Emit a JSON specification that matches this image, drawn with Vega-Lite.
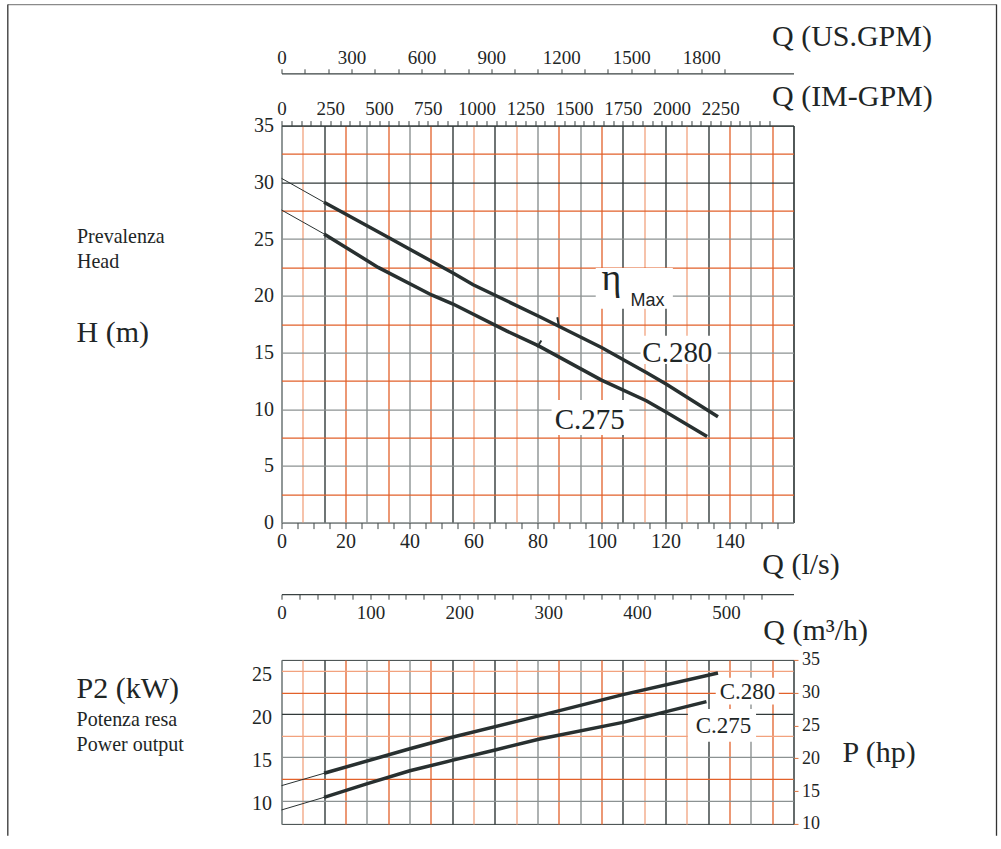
{
  "$schema": "https://vega.github.io/schema/vega-lite/v6.json",
  "background": "white",
  "padding": {"left": 6.5, "top": 2.6, "right": 0, "bottom": 0},
  "bounds": "flush",
  "spacing": 137.3,
  "config": {
    "view": {"stroke": "#3a4242", "strokeWidth": 1},
    "axis": {
      "grid": false,
      "labelFont": "Liberation Serif",
      "titleFont": "Liberation Serif",
      "titleFontWeight": "normal",
      "labelColor": "#1e2626",
      "titleColor": "#1e2626",
      "labelOverlap": false,
      "labelFlush": false,
      "domainColor": "#3a4242",
      "tickColor": "#3a4242",
      "titleAngle": 0,
      "titleAlign": "left",
      "titleBaseline": "alphabetic"
    }
  },
  "datasets": {
    "head": [
      {"pump": "C.280", "q": 0, "h": 30.35},
      {"pump": "C.280", "q": 13.3, "h": 28.24},
      {"pump": "C.280", "q": 33.3, "h": 25.15},
      {"pump": "C.280", "q": 53.6, "h": 22.0},
      {"pump": "C.280", "q": 59.9, "h": 20.97},
      {"pump": "C.280", "q": 80.7, "h": 18.15},
      {"pump": "C.280", "q": 100, "h": 15.44},
      {"pump": "C.280", "q": 114, "h": 13.24},
      {"pump": "C.280", "q": 120.3, "h": 12.2},
      {"pump": "C.280", "q": 136.4, "h": 9.33},
      {"pump": "C.275", "q": 0, "h": 27.56},
      {"pump": "C.275", "q": 13.3, "h": 25.45},
      {"pump": "C.275", "q": 30.2, "h": 22.5},
      {"pump": "C.275", "q": 46.9, "h": 20.07},
      {"pump": "C.275", "q": 53.6, "h": 19.27},
      {"pump": "C.275", "q": 70.3, "h": 16.9},
      {"pump": "C.275", "q": 80.2, "h": 15.6},
      {"pump": "C.275", "q": 100, "h": 12.56},
      {"pump": "C.275", "q": 114, "h": 10.74},
      {"pump": "C.275", "q": 120, "h": 9.77},
      {"pump": "C.275", "q": 133, "h": 7.6}
    ],
    "power": [
      {"pump": "C.280", "q": 0, "p": 11.73},
      {"pump": "C.280", "q": 13.3, "p": 13.16},
      {"pump": "C.280", "q": 40.1, "p": 16.0},
      {"pump": "C.280", "q": 53.6, "p": 17.35},
      {"pump": "C.280", "q": 80.7, "p": 19.83},
      {"pump": "C.280", "q": 106.7, "p": 22.25},
      {"pump": "C.280", "q": 136.4, "p": 24.76},
      {"pump": "C.275", "q": 0, "p": 8.92},
      {"pump": "C.275", "q": 13.3, "p": 10.38},
      {"pump": "C.275", "q": 26.6, "p": 11.93},
      {"pump": "C.275", "q": 40.1, "p": 13.45},
      {"pump": "C.275", "q": 53.6, "p": 14.68},
      {"pump": "C.275", "q": 66.75, "p": 15.86},
      {"pump": "C.275", "q": 80.7, "p": 17.13},
      {"pump": "C.275", "q": 106.7, "p": 19.05},
      {"pump": "C.275", "q": 132.8, "p": 21.45}
    ],
    "eta": [
      {"pump": "C.280", "q": 86.7, "h": 17.3},
      {"pump": "C.280", "q": 86.2, "h": 18.1},
      {"pump": "C.275", "q": 79.9, "h": 15.45},
      {"pump": "C.275", "q": 81.2, "h": 16.05}
    ],
    "labels": [
      {"panel": "H", "text": "C.280", "q": 123.7, "v": 14.18},
      {"panel": "H", "text": "C.275", "q": 96.3, "v": 8.27},
      {"panel": "H", "text": "η", "q": 103.1, "v": 20.53},
      {"panel": "H", "text": "Max", "q": 109.1, "v": 19.12},
      {"panel": "P", "text": "C.280", "q": 145.6, "v": 21.73},
      {"panel": "P", "text": "C.275", "q": 138.1, "v": 17.83}
    ],
    "boxes": [
      {"panel": "H", "box": "C.280", "q1": 112.2, "q2": 136.3, "v1": 16.47, "v2": 13.99},
      {"panel": "H", "box": "C.275", "q1": 84.4, "q2": 108.7, "v1": 10.81, "v2": 7.72},
      {"panel": "H", "box": "eta", "q1": 98.2, "q2": 122.3, "v1": 22.45, "v2": 18.85},
      {"panel": "P", "box": "C.280", "q1": 135.7, "q2": 155.4, "v1": 24.22, "v2": 21.1},
      {"panel": "P", "box": "C.275", "q1": 127, "q2": 148.3, "v1": 20.6, "v2": 16.8}
    ],
    "frame": [
      {"part": "border"}
    ]
  },
  "vconcat": [
    {
      "width": 512,
      "height": 397,
      "resolve": {"scale": {"x": "independent", "y": "independent"}, "axis": {"x": "independent", "y": "independent"}},
      "layer": [
        {
          "data": {"name": "labels"},
          "mark": {"type": "point", "opacity": 0},
          "encoding": {
            "x": {"datum": 0, "type": "quantitative", "scale": {"domain": [0, 24], "nice": false, "zero": false},
              "axis": {"orient": "bottom", "values": [0,2,4,6,8,10,12,14,16,18,20,22,24], "grid": true,
                "gridColor": {"condition": {"test": "indexof([0,4,6,12,14,22], datum.value) >= 0", "value": "#8c9292"}, "value": "#323a3a"},
                "gridWidth": 1.4, "labels": false, "ticks": false, "domain": false, "title": null}},
            "y": {"datum": 0, "type": "quantitative", "scale": {"domain": [0, 35], "nice": false, "zero": false},
              "axis": {"orient": "left", "values": [0,5,10,15,20,25,30,35], "grid": true,
                "gridColor": {"condition": {"test": "datum.value >= 30", "value": "#323a3a"}, "value": "#8c9292"},
                "gridWidth": 1.4, "ticks": false, "domain": false, "labelFontSize": 20, "labelPadding": 8,
                "title": "H (m)", "titleFontSize": 30, "titleX": -205.5, "titleY": 216.4}}
          }
        },
        {
          "data": {"name": "labels"},
          "mark": {"type": "point", "opacity": 0},
          "encoding": {
            "x": {"datum": 0, "type": "quantitative", "scale": {"domain": [0, 24], "nice": false, "zero": false},
              "axis": {"orient": "bottom", "values": [1,3,5,7,9,11,13,15,17,19,21,23], "grid": true,
                "gridColor": {"condition": {"test": "indexof([1,9,11,17,19], datum.value) >= 0", "value": "#f2a27e"}, "value": "#e2612a"},
                "gridWidth": 1.3, "labels": false, "ticks": false, "domain": false, "title": null}},
            "y": {"datum": 0, "type": "quantitative", "scale": {"domain": [0, 35], "nice": false, "zero": false},
              "axis": {"orient": "left", "values": [2.5,7.5,12.5,17.5,22.5,27.5,32.5], "grid": true, "gridColor": "#e2612a",
                "gridWidth": 1.3, "labels": false, "ticks": false, "domain": false,
                "title": ["Prevalenza", "Head"], "titleFontSize": 20, "titleLineHeight": 25, "titleX": -205, "titleY": 116.7}}
          }
        },
        {
          "data": {"name": "labels"},
          "mark": {"type": "point", "opacity": 0},
          "encoding": {
            "x": {"datum": 0, "type": "quantitative", "scale": {"domain": [0, 2196], "nice": false, "zero": false},
              "axis": {"orient": "top", "offset": 52.3, "values": [0,100,200,300,400,500,600,700,800,900,1000,1100,1200,1300,1400,1500,1600,1700,1800,1900],
                "labelExpr": "datum.value % 300 === 0 ? format(datum.value, 'd') : ''",
                "tickSize": 4.5, "domainWidth": 1.2, "labelPadding": 5, "labelBaseline": "alphabetic", "labelFontSize": 19,
                "title": "Q (US.GPM)", "titleFontSize": 30, "titleX": 490, "titleY": -28}},
            "y": {"datum": 0, "type": "quantitative", "scale": {"domain": [0, 35], "nice": false, "zero": false}, "axis": null}
          }
        },
        {
          "data": {"name": "labels"},
          "mark": {"type": "point", "opacity": 0},
          "encoding": {
            "x": {"datum": 0, "type": "quantitative", "scale": {"domain": [0, 2625], "nice": false, "zero": false},
              "axis": {"orient": "top", "values": [0,50,100,150,200,250,300,350,400,450,500,550,600,650,700,750,800,850,900,950,1000,1050,1100,1150,1200,1250,1300,1350,1400,1450,1500,1550,1600,1650,1700,1750,1800,1850,1900,1950,2000,2050,2100,2150,2200,2250,2300,2350,2400,2450,2500],
                "labelExpr": "datum.value % 250 === 0 && datum.value <= 2250 ? format(datum.value, 'd') : ''",
                "tickSize": 5, "domain": false, "labelPadding": 6.5, "labelBaseline": "alphabetic", "labelFontSize": 19,
                "title": "Q (IM-GPM)", "titleFontSize": 30, "titleX": 490, "titleY": -20.5}},
            "y": {"datum": 0, "type": "quantitative", "scale": {"domain": [0, 35], "nice": false, "zero": false}, "axis": null}
          }
        },
        {
          "data": {"name": "labels"},
          "mark": {"type": "point", "opacity": 0},
          "encoding": {
            "x": {"datum": 0, "type": "quantitative", "scale": {"domain": [0, 160], "nice": false, "zero": false},
              "axis": {"orient": "bottom", "values": [0,5,10,15,20,25,30,35,40,45,50,55,60,65,70,75,80,85,90,95,100,105,110,115,120,125,130,135,140,145,150,155],
                "labelExpr": "datum.value % 20 === 0 && datum.value <= 140 ? format(datum.value, 'd') : ''",
                "tickSize": 6, "domain": false, "labelPadding": 2.5, "labelFontSize": 20,
                "title": "Q (l/s)", "titleFontSize": 30, "titleX": 480.3, "titleY": 50.5}},
            "y": {"datum": 0, "type": "quantitative", "scale": {"domain": [0, 35], "nice": false, "zero": false}, "axis": null}
          }
        },
        {
          "data": {"name": "labels"},
          "mark": {"type": "point", "opacity": 0},
          "encoding": {
            "x": {"datum": 0, "type": "quantitative", "scale": {"domain": [0, 576], "nice": false, "zero": false},
              "axis": {"orient": "bottom", "offset": 71.6, "values": [0,20,40,60,80,100,120,140,160,180,200,220,240,260,280,300,320,340,360,380,400,420,440,460,480,500,520,540],
                "labelExpr": "datum.value % 100 === 0 ? format(datum.value, 'd') : ''",
                "tickSize": 5, "domainWidth": 1.2, "labelPadding": 4.5, "labelFontSize": 19,
                "title": "Q (m³/h)", "titleFontSize": 30, "titleX": 481.3, "titleY": 45}},
            "y": {"datum": 0, "type": "quantitative", "scale": {"domain": [0, 35], "nice": false, "zero": false}, "axis": null}
          }
        },
        {
          "data": {"name": "frame"},
          "mark": {"type": "rule", "color": "#8a8a8a", "strokeWidth": 1.3},
          "encoding": {
            "x": {"datum": -85.53, "type": "quantitative", "scale": {"domain": [0, 160], "nice": false, "zero": false}, "axis": null},
            "x2": {"datum": 223.44},
            "y": {"datum": 45.67, "type": "quantitative", "scale": {"domain": [0, 35], "nice": false, "zero": false}, "axis": null}
          }
        },
        {
          "data": {"name": "frame"},
          "mark": {"type": "rule", "color": "#333333", "strokeWidth": 1.3},
          "encoding": {
            "x": {"datum": -85.53, "type": "quantitative", "scale": {"domain": [0, 160], "nice": false, "zero": false}, "axis": null},
            "y": {"datum": 45.67, "type": "quantitative", "scale": {"domain": [0, 35], "nice": false, "zero": false}, "axis": null},
            "y2": {"datum": -27.6}
          }
        },
        {
          "data": {"name": "frame"},
          "mark": {"type": "rule", "color": "#333333", "strokeWidth": 1.3},
          "encoding": {
            "x": {"datum": 223.44, "type": "quantitative", "scale": {"domain": [0, 160], "nice": false, "zero": false}, "axis": null},
            "y": {"datum": 45.67, "type": "quantitative", "scale": {"domain": [0, 35], "nice": false, "zero": false}, "axis": null},
            "y2": {"datum": -27.6}
          }
        },
        {
          "data": {"name": "boxes"},
          "transform": [{"filter": "datum.panel === 'H'"}],
          "mark": {"type": "rect", "fill": "white"},
          "encoding": {
            "x": {"field": "q1", "type": "quantitative", "scale": {"domain": [0, 160], "nice": false, "zero": false}, "axis": null},
            "x2": {"field": "q2"},
            "y": {"field": "v1", "type": "quantitative", "scale": {"domain": [0, 35], "nice": false, "zero": false}, "axis": null},
            "y2": {"field": "v2"}
          }
        },
        {
          "data": {"name": "head"},
          "transform": [{"filter": "datum.q <= 13.3"}],
          "mark": {"type": "line", "color": "#283030", "strokeWidth": 1},
          "encoding": {
            "x": {"field": "q", "type": "quantitative", "scale": {"domain": [0, 160], "nice": false, "zero": false}, "axis": null},
            "y": {"field": "h", "type": "quantitative", "scale": {"domain": [0, 35], "nice": false, "zero": false}, "axis": null},
            "detail": {"field": "pump"}
          }
        },
        {
          "data": {"name": "head"},
          "transform": [{"filter": "datum.q >= 13.3"}],
          "mark": {"type": "line", "color": "#283030", "strokeWidth": 3.5},
          "encoding": {
            "x": {"field": "q", "type": "quantitative", "scale": {"domain": [0, 160], "nice": false, "zero": false}, "axis": null},
            "y": {"field": "h", "type": "quantitative", "scale": {"domain": [0, 35], "nice": false, "zero": false}, "axis": null},
            "detail": {"field": "pump"}
          }
        },
        {
          "data": {"name": "eta"},
          "mark": {"type": "line", "color": "#283030", "strokeWidth": 2},
          "encoding": {
            "x": {"field": "q", "type": "quantitative", "scale": {"domain": [0, 160], "nice": false, "zero": false}, "axis": null},
            "y": {"field": "h", "type": "quantitative", "scale": {"domain": [0, 35], "nice": false, "zero": false}, "axis": null},
            "detail": {"field": "pump"},
            "order": {"field": "h"}
          }
        },
        {
          "data": {"name": "labels"},
          "transform": [{"filter": "datum.panel === 'H' && indexof(['C.280', 'C.275'], datum.text) >= 0"}],
          "mark": {"type": "text", "font": "Liberation Serif", "fontSize": 29, "align": "center", "baseline": "alphabetic", "color": "#1e2626"},
          "encoding": {
            "x": {"field": "q", "type": "quantitative", "scale": {"domain": [0, 160], "nice": false, "zero": false}, "axis": null},
            "y": {"field": "v", "type": "quantitative", "scale": {"domain": [0, 35], "nice": false, "zero": false}, "axis": null},
            "text": {"field": "text"}
          }
        },
        {
          "data": {"name": "labels"},
          "transform": [{"filter": "datum.panel === 'H' && datum.text === 'η'"}],
          "mark": {"type": "text", "font": "Liberation Serif", "fontSize": 38, "align": "center", "baseline": "alphabetic", "color": "#1e2626"},
          "encoding": {
            "x": {"field": "q", "type": "quantitative", "scale": {"domain": [0, 160], "nice": false, "zero": false}, "axis": null},
            "y": {"field": "v", "type": "quantitative", "scale": {"domain": [0, 35], "nice": false, "zero": false}, "axis": null},
            "text": {"field": "text"}
          }
        },
        {
          "data": {"name": "labels"},
          "transform": [{"filter": "datum.panel === 'H' && datum.text === 'Max'"}],
          "mark": {"type": "text", "font": "Liberation Sans", "fontSize": 18, "align": "left", "baseline": "alphabetic", "color": "#1e2626"},
          "encoding": {
            "x": {"field": "q", "type": "quantitative", "scale": {"domain": [0, 160], "nice": false, "zero": false}, "axis": null},
            "y": {"field": "v", "type": "quantitative", "scale": {"domain": [0, 35], "nice": false, "zero": false}, "axis": null},
            "text": {"field": "text"}
          }
        }
      ]
    },
    {
      "width": 512,
      "height": 164,
      "resolve": {"scale": {"x": "independent", "y": "independent"}, "axis": {"x": "independent", "y": "independent"}},
      "layer": [
        {
          "data": {"name": "labels"},
          "mark": {"type": "point", "opacity": 0},
          "encoding": {
            "x": {"datum": 0, "type": "quantitative", "scale": {"domain": [0, 24], "nice": false, "zero": false},
              "axis": {"orient": "bottom", "values": [0,2,4,6,8,10,12,14,16,18,20,22,24], "grid": true,
                "gridColor": {"condition": {"test": "indexof([0,4,6,12,14,22], datum.value) >= 0", "value": "#8c9292"}, "value": "#323a3a"},
                "gridWidth": 1.4, "labels": false, "ticks": false, "domain": false, "title": null}},
            "y": {"datum": 10, "type": "quantitative", "scale": {"domain": [7.31, 26.27], "nice": false, "zero": false},
              "axis": {"orient": "left", "values": [10,15,20,25], "grid": true,
                "gridColor": {"condition": {"test": "datum.value === 20", "value": "#323a3a"}, "value": "#8c9292"},
                "gridOpacity": {"condition": {"test": "datum.value === 25", "value": 0}, "value": 1},
                "gridWidth": 1.4, "ticks": false, "domain": false, "labelFontSize": 20, "labelPadding": 10, "labelOffset": 3.3,
                "title": "P2 (kW)", "titleFontSize": 30, "titleX": -205.4, "titleY": 38.1}}
          }
        },
        {
          "data": {"name": "labels"},
          "mark": {"type": "point", "opacity": 0},
          "encoding": {
            "x": {"datum": 0, "type": "quantitative", "scale": {"domain": [0, 24], "nice": false, "zero": false},
              "axis": {"orient": "bottom", "values": [1,3,5,7,9,11,13,15,17,19,21,23], "grid": true,
                "gridColor": {"condition": {"test": "indexof([1,9,11,17,19], datum.value) >= 0", "value": "#f2a27e"}, "value": "#e2612a"},
                "gridWidth": 1.3, "labels": false, "ticks": false, "domain": false, "title": null}},
            "y": {"datum": 10, "type": "quantitative", "scale": {"domain": [7.31, 26.27], "nice": false, "zero": false},
              "axis": {"orient": "left", "values": [12.5,17.5,22.5,25], "grid": true,
                "gridColor": {"condition": {"test": "datum.value === 17.5 || datum.value === 25", "value": "#f2a27e"}, "value": "#e2612a"},
                "gridWidth": 1.3, "labels": false, "ticks": false, "domain": false,
                "title": ["Potenza resa", "Power output"], "titleFontSize": 20, "titleLineHeight": 25, "titleX": -205.4, "titleY": 65.7}}
          }
        },
        {
          "data": {"name": "labels"},
          "mark": {"type": "point", "opacity": 0},
          "encoding": {
            "x": {"datum": 0, "type": "quantitative", "scale": {"domain": [0, 160], "nice": false, "zero": false}, "axis": null},
            "y": {"datum": 10, "type": "quantitative", "scale": {"domain": [10, 35], "nice": false, "zero": false},
              "axis": {"orient": "right", "values": [10,15,20,25,30,35], "tickSize": 4.5, "tickColor": "#e0703a", "domainColor": "#7a8080",
                "labelFontSize": 18, "labelPadding": 3.5,
                "title": "P (hp)", "titleFontSize": 30, "titleX": 48.6, "titleY": 102.1}}
          }
        },
        {
          "data": {"name": "boxes"},
          "transform": [{"filter": "datum.panel === 'P'"}],
          "mark": {"type": "rect", "fill": "white"},
          "encoding": {
            "x": {"field": "q1", "type": "quantitative", "scale": {"domain": [0, 160], "nice": false, "zero": false}, "axis": null},
            "x2": {"field": "q2"},
            "y": {"field": "v1", "type": "quantitative", "scale": {"domain": [7.31, 26.27], "nice": false, "zero": false}, "axis": null},
            "y2": {"field": "v2"}
          }
        },
        {
          "data": {"name": "power"},
          "transform": [{"filter": "datum.q <= 13.3"}],
          "mark": {"type": "line", "color": "#283030", "strokeWidth": 1},
          "encoding": {
            "x": {"field": "q", "type": "quantitative", "scale": {"domain": [0, 160], "nice": false, "zero": false}, "axis": null},
            "y": {"field": "p", "type": "quantitative", "scale": {"domain": [7.31, 26.27], "nice": false, "zero": false}, "axis": null},
            "detail": {"field": "pump"}
          }
        },
        {
          "data": {"name": "power"},
          "transform": [{"filter": "datum.q >= 13.3"}],
          "mark": {"type": "line", "color": "#283030", "strokeWidth": 3.5},
          "encoding": {
            "x": {"field": "q", "type": "quantitative", "scale": {"domain": [0, 160], "nice": false, "zero": false}, "axis": null},
            "y": {"field": "p", "type": "quantitative", "scale": {"domain": [7.31, 26.27], "nice": false, "zero": false}, "axis": null},
            "detail": {"field": "pump"}
          }
        },
        {
          "data": {"name": "labels"},
          "transform": [{"filter": "datum.panel === 'P'"}],
          "mark": {"type": "text", "font": "Liberation Serif", "fontSize": 23, "align": "center", "baseline": "alphabetic", "color": "#1e2626"},
          "encoding": {
            "x": {"field": "q", "type": "quantitative", "scale": {"domain": [0, 160], "nice": false, "zero": false}, "axis": null},
            "y": {"field": "v", "type": "quantitative", "scale": {"domain": [7.31, 26.27], "nice": false, "zero": false}, "axis": null},
            "text": {"field": "text"}
          }
        }
      ]
    }
  ]
}
